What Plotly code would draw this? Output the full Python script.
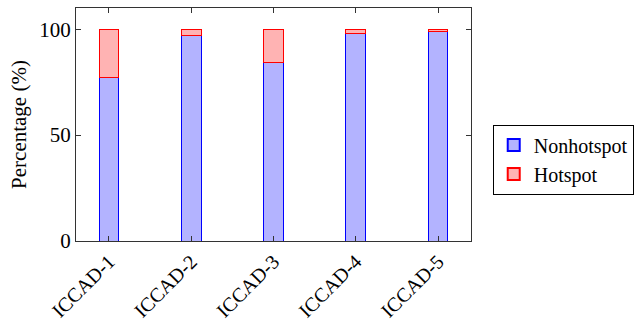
import plotly.graph_objects as go

categories = ["ICCAD-1", "ICCAD-2", "ICCAD-3", "ICCAD-4", "ICCAD-5"]
nonhotspot = [77.1, 97.2, 84.2, 98.0, 99.0]
hotspot = [22.9, 2.8, 15.8, 2.0, 1.0]
y_ticks = [0, 50, 100]

FONT = "Liberation Serif"

fig = go.Figure()
fig.add_trace(go.Bar(
    x=list(range(len(categories))), y=nonhotspot, name="Nonhotspot", width=0.24,
    marker=dict(color="rgb(179,179,255)", line=dict(color="blue", width=1)),
))
fig.add_trace(go.Bar(
    x=list(range(len(categories))), y=hotspot, name="Hotspot", width=0.24,
    marker=dict(color="rgb(255,179,179)", line=dict(color="red", width=1)),
))

fig.update_layout(
    barmode="stack",
    width=638, height=324,
    margin=dict(l=76, r=167, t=8, b=83, autoexpand=False),
    paper_bgcolor="white", plot_bgcolor="white",
    font=dict(family=FONT, size=21, color="black"),
    showlegend=True,
    legend=dict(
        x=1.055, y=0.50, xanchor="left", yanchor="top",
        bordercolor="black", borderwidth=1, bgcolor="white",
        font=dict(family=FONT, size=20),
        tracegroupgap=0, itemsizing="constant",
        traceorder="normal",
    ),
)
fig.update_xaxes(
    range=[-0.4, 4.4], automargin=False,
    tickmode="array", tickvals=list(range(len(categories))), ticktext=categories,
    tickangle=-45,
    showline=True, linecolor="#333", linewidth=1, mirror="allticks",
    ticks="inside", ticklen=5, tickcolor="#333",
    showgrid=False, zeroline=False,
    tickfont=dict(family=FONT, size=20),
)
fig.update_yaxes(
    range=[0, 110], automargin=False,
    tickmode="array", tickvals=y_ticks,
    showline=True, linecolor="#333", linewidth=1, mirror="allticks",
    ticks="inside", ticklen=5, tickcolor="#333",
    showgrid=False, zeroline=False,
    title=dict(text="Percentage (%)", font=dict(family=FONT, size=21), standoff=6),
    tickfont=dict(family=FONT, size=21),
)

fig.write_html("out.html", config={"displayModeBar": False},
               post_script="document.body.style.margin='0';")
